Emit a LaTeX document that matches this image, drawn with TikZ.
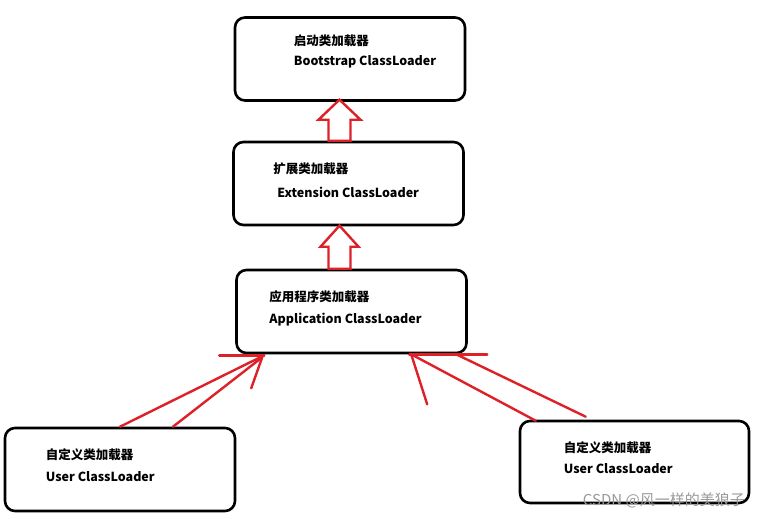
\documentclass[tikz,border=0pt]{standalone}
\usepackage{fontspec}
\setmainfont{Noto Sans CJK SC}
\usepackage{xcolor}
\usetikzlibrary{calc, positioning}
\definecolor{ArrowRed}{RGB}{222,32,40}

\begin{document}
\begin{tikzpicture}[x=1pt, y=-1pt, loader/.style={rectangle, rounded corners=10pt, draw, line width=2.6pt, minimum width=230pt, minimum height=83pt}, cn/.style={anchor=west, inner sep=0pt, font=\bfseries\fontsize{12.5}{14}\selectfont}, en/.style={anchor=west, inner sep=0pt, font=\bfseries\fontsize{12.5}{14}\selectfont}, hollow/.style={draw=ArrowRed, line width=2.4pt, fill=white}, redline/.style={draw=ArrowRed, line width=2.4pt, line cap=round}]

        \useasboundingbox (0,0) rectangle (763,519);

        \node[loader] (boot) at (350,59) {};
        \node[loader] (ext) at (348.5,183.5) {};
        \node[loader] (app) at (351.5,311.5) {};
        \node[loader] (userL) at (120,469.5) {};
        \node[loader, minimum width=229pt, minimum height=82pt] (userR) at (634.5,462) {};

        \node[cn] (bootCN) at ($(boot.north west)+(60,25)$) {启动类加载器};
        \node[en] (bootEN) at ($(boot.north west)+(60,46)$) {Bootstrap ClassLoader};
        \node[cn] (extCN) at ($(ext.north west)+(41,28)$) {扩展类加载器};
        \node[en] (extEN) at ($(ext.north west)+(45,52)$) {Extension ClassLoader};
        \node[cn] (appCN) at ($(app.north west)+(34,28)$) {应用程序类加载器};
        \node[en] (appEN) at ($(app.north west)+(34,51)$) {Application ClassLoader};
        \node[cn] (userLCN) at ($(userL.north west)+(42,28)$) {自定义类加载器};
        \node[en] (userLEN) at ($(userL.north west)+(42,50)$) {User ClassLoader};
        \node[cn] (userRCN) at ($(userR.north west)+(45,28)$) {自定义类加载器};
        \node[en] (userREN) at ($(userR.north west)+(45,49)$) {User ClassLoader};

        % hollow arrows
        \draw[hollow] ($(ext.north)+(-9,0)$) ++(-11,0) -- ++(22,0) -- ++(0,-21) -- ++(10,0) -- ++(-21,-20) -- ++(-21,20) -- ++(10,0) -- cycle;
        \draw[hollow] ($(app.north)+(-12,0)$) ++(-11,0) -- ++(22,0) -- ++(0,-22) -- ++(8,0) -- ++(-19,-21) -- ++(-19,21) -- ++(8,0) -- cycle;

        % hand drawn arrows
        \coordinate (tipL) at ($(app.south west)+(29,1)$);
        \coordinate (tipR) at ($(app.south west)+(176,0)$);
        \draw[redline] (userL.north) -- (tipL);
        \draw[redline] ($(userL.north)+(53,0)$) -- ($(tipL)+(-2,2)$);
        \draw[redline] (tipL) -- ++(-45,0);
        \draw[redline] ($(tipL)+(-2,2)$) -- ++(-11,31);
        \draw[redline] ($(userR.north west)+(17,1)$) -- (tipR);
        \draw[redline] ($(userR.north west)+(67,-3)$) -- ($(tipR)+(45,0)$);
        \draw[redline] (tipR) -- ++(16,50);
        \draw[redline] ($(tipR)+(-2,0)$) -- ++(78,0);

        \node[anchor=east, inner sep=0pt, text=gray!80, font=\fontsize{15}{17}\selectfont] (mark) at (745,500) {CSDN @风一样的美狼子};

    \end{tikzpicture}
\end{document}
